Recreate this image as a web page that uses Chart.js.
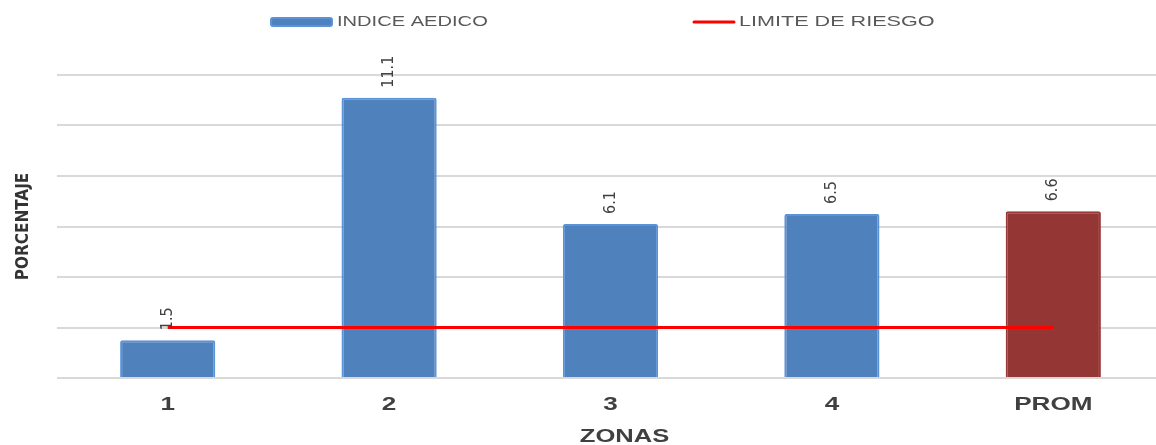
<!DOCTYPE html>
<html>
<head>
<meta charset="utf-8">
<script src="https://cdn.jsdelivr.net/npm/chart.js@4"></script>
<style>
  html, body { margin: 0; padding: 0; background: #fff; overflow: hidden; }
  #wrap { width: 1164px; height: 445px; }
</style>
</head>
<body>
<div id="wrap"><canvas id="grafica"></canvas></div>
<script>
// datos
const zonas = ["1", "2", "3", "4", "PROM"]
const indiceAedico = [1.5, 11.1, 6.1, 6.5, 6.6]
const limiteRiesgo = [2, 2, 2, 2, 2]
const coloresBarras = ["#4F81BD", "#4F81BD", "#4F81BD", "#4F81BD", "#943634"]
const bordesBarras = ["#5B93D8", "#5B93D8", "#5B93D8", "#5B93D8", "#9A3A38"]

const fuenteAngosta = "'Liberation Sans Narrow', 'DejaVu Sans Condensed', 'Liberation Sans', sans-serif"
const fuente = "'Liberation Sans', 'DejaVu Sans', sans-serif"
const gris = "#404040"

// texto ensanchado (la imagen original esta estirada a lo ancho)
let textoAncho = (ctx, texto, x, y, escala) => {
    ctx.save()
    ctx.translate(x, y)
    ctx.scale(escala, 1)
    ctx.fillText(texto, 0, 0)
    ctx.restore()
}

// etiquetas de valor giradas encima de cada barra
const etiquetas = {
    id: "etiquetas",
    afterDatasetsDraw(chart) {
        const ctx = chart.ctx
        const meta = chart.getDatasetMeta(1)
        ctx.save()
        ctx.fillStyle = gris
        ctx.font = "16px " + fuenteAngosta
        ctx.textAlign = "left"
        ctx.textBaseline = "middle"
        meta.data.forEach((bar, i) => {
            ctx.save()
            ctx.translate(bar.x, bar.y - 10)
            ctx.rotate(-Math.PI / 2)
            ctx.fillText(indiceAedico[i].toFixed(1), 0, 0)
            ctx.restore()
        })
        ctx.restore()
    }
}

// nombres de las zonas y titulo del eje x
const ejeX = {
    id: "ejeX",
    afterDraw(chart) {
        const ctx = chart.ctx
        const x = chart.scales.x
        ctx.save()
        ctx.fillStyle = gris
        ctx.font = "bold 18px " + fuente
        ctx.textAlign = "center"
        ctx.textBaseline = "middle"
        zonas.forEach((z, i) => {
            textoAncho(ctx, z, x.getPixelForTick(i), 405, 1.45)
        })
        textoAncho(ctx, "ZONAS", (x.left + x.right) / 2 + 14, 437, 1.42)
        ctx.restore()
    }
}

// leyenda dibujada a mano (caja azul y linea roja)
const leyenda = {
    id: "leyenda",
    afterDraw(chart) {
        const ctx = chart.ctx
        ctx.save()
        ctx.font = "15px " + fuente
        ctx.textBaseline = "middle"
        ctx.textAlign = "left"
        ctx.fillStyle = "#4F81BD"
        ctx.strokeStyle = "#5B93D8"
        ctx.lineWidth = 2
        ctx.beginPath()
        ctx.roundRect(271, 18, 61, 8, 2)
        ctx.fill()
        ctx.stroke()
        ctx.fillStyle = "#595959"
        textoAncho(ctx, "INDICE AEDICO", 337, 22, 1.34)
        ctx.strokeStyle = "#FF0000"
        ctx.lineWidth = 3
        ctx.lineCap = "round"
        ctx.beginPath()
        ctx.moveTo(694, 22)
        ctx.lineTo(734, 22)
        ctx.stroke()
        textoAncho(ctx, "LIMITE DE RIESGO", 739, 22, 1.44)
        ctx.restore()
    }
}

new Chart(document.getElementById("grafica"), {
    type: "bar",
    data: {
        labels: zonas,
        datasets: [
            {
                type: "line",
                label: "LIMITE DE RIESGO",
                data: limiteRiesgo,
                borderColor: "#FF0000",
                borderWidth: 3,
                pointRadius: 0,
                fill: false,
                order: 0
            },
            {
                label: "INDICE AEDICO",
                data: indiceAedico,
                backgroundColor: coloresBarras,
                borderColor: bordesBarras,
                borderWidth: 2,
                borderRadius: 2,
                borderSkipped: "bottom",
                barPercentage: 0.43,
                categoryPercentage: 1,
                order: 1
            }
        ]
    },
    options: {
        responsive: true,
        maintainAspectRatio: false,
        animation: false,
        layout: { padding: { top: 75, left: 0, right: 0, bottom: 0 } },
        plugins: {
            legend: { display: false },
            tooltip: { enabled: false }
        },
        scales: {
            x: {
                grid: { display: false },
                border: { display: false },
                ticks: { display: false },
                afterFit: (scale) => { scale.height = 67 }
            },
            y: {
                min: 0,
                max: 12,
                ticks: { display: false, stepSize: 2 },
                border: { display: false },
                grid: { color: "#D9D9D9", lineWidth: 2, drawTicks: false },
                title: {
                    display: true,
                    text: "PORCENTAJE",
                    color: "#333333",
                    font: { size: 17, weight: "bold", family: fuenteAngosta },
                    padding: { top: 13, bottom: 0 }
                },
                afterFit: (scale) => { scale.width = 57 }
            }
        }
    },
    plugins: [etiquetas, ejeX, leyenda]
})
</script>
</body>
</html>
